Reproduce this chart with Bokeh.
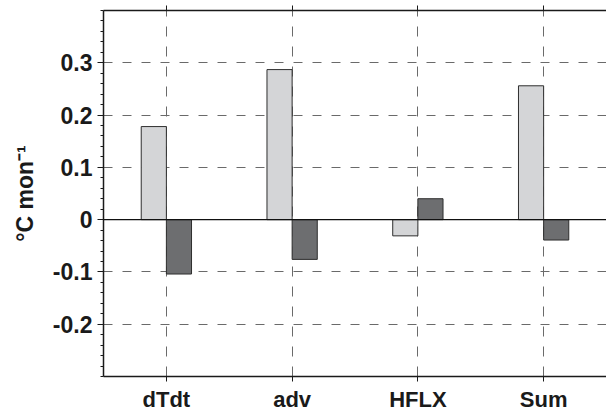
from bokeh.plotting import figure
from bokeh.models import (FactorRange, Range1d, FixedTicker, CategoricalAxis, Span,
                          ColumnDataSource, CustomLabelingPolicy)
from bokeh.transform import dodge
from bokeh.embed import file_html
from bokeh.resources import INLINE

categories = ["dTdt", "adv", "HFLX", "Sum"]
series_light = [0.178, 0.287, -0.031, 0.256]
series_dark = [-0.104, -0.076, 0.040, -0.039]
y_ticks = [-0.2, -0.1, 0, 0.1, 0.2, 0.3]
y_tick_labels = ["-0.2", "-0.1", "0", "0.1", "0.2", "0.3"]
y_minor = [round(-0.3 + 0.02 * i, 2) for i in range(36)]

FONT = "Liberation Sans"

src = ColumnDataSource(dict(cat=categories, light=series_light, dark=series_dark))

p = figure(width=606, height=419, output_backend="svg", toolbar_location=None,
           x_range=FactorRange(factors=categories, range_padding=0),
           y_range=Range1d(-0.3, 0.4),
           min_border_left=103, min_border_right=0, min_border_top=10,
           min_border_bottom=43, outline_line_color=None)
p.background_fill_color = "white"
p.border_fill_color = "white"

# grids
p.xgrid.grid_line_color = "#6a6a6a"
p.xgrid.grid_line_dash = "10 10"
p.xgrid.grid_line_width = 1
p.ygrid.ticker = FixedTicker(ticks=[t for t in y_ticks if t != 0])
p.ygrid.grid_line_color = "#6a6a6a"
p.ygrid.grid_line_dash = "9 10"
p.ygrid.grid_line_width = 1

# bars
p.vbar(x=dodge("cat", -0.1, range=p.x_range), top="light", bottom=0, width=0.2,
       source=src, fill_color="#d4d5d7", line_color="#2e2e2e", line_width=1)
p.vbar(x=dodge("cat", 0.1, range=p.x_range), top="dark", bottom=0, width=0.2,
       source=src, fill_color="#6d6e70", line_color="#2e2e2e", line_width=1)

p.add_layout(Span(location=0, dimension="width", line_color="#111111", line_width=1.2))

# y axis
ya = p.yaxis[0]
ya.ticker = FixedTicker(ticks=y_ticks, minor_ticks=y_minor)
ya.major_label_overrides = {t: s for t, s in zip(y_ticks, y_tick_labels)}
ya.major_label_text_font = FONT
ya.major_label_text_font_style = "bold"
ya.major_label_text_font_size = "23px"
ya.major_label_text_color = "#1a1a1a"
ya.major_tick_out = 6
ya.major_tick_in = 0
ya.minor_tick_out = 3
ya.minor_tick_in = 0
ya.major_label_standoff = 5
ya.axis_line_width = 1.5
ya.axis_line_color = "#1a1a1a"
ya.major_tick_line_color = "#1a1a1a"
ya.minor_tick_line_color = "#1a1a1a"
ya.axis_label = "\u00b0C mon\u207b\u00b9"
ya.axis_label_text_font = FONT
ya.axis_label_text_font_style = "bold"
ya.axis_label_text_font_size = "23px"
ya.axis_label_text_color = "#1a1a1a"
ya.axis_label_standoff = 12

# bottom axis
xa = p.xaxis[0]
xa.major_label_text_font = FONT
xa.major_label_text_font_style = "bold"
xa.major_label_text_font_size = "22px"
xa.major_label_text_color = "#1a1a1a"
xa.major_tick_out = 5
xa.major_tick_in = 0
xa.major_label_standoff = 5
xa.axis_line_width = 1.5
xa.axis_line_color = "#1a1a1a"
xa.major_tick_line_color = "#1a1a1a"

# top axis: ticks only, no labels
ta = CategoricalAxis(major_label_text_font_size="1px", major_tick_out=5, major_tick_in=0,
                     axis_line_width=1.5, axis_line_color="#1a1a1a",
                     major_tick_line_color="#1a1a1a", major_label_standoff=0,
                     major_label_policy=CustomLabelingPolicy(
                         code="for (const i of indices) { if (i < 0) yield i }"))
p.add_layout(ta, "above")

open("out.html", "w").write(file_html(p, INLINE))
